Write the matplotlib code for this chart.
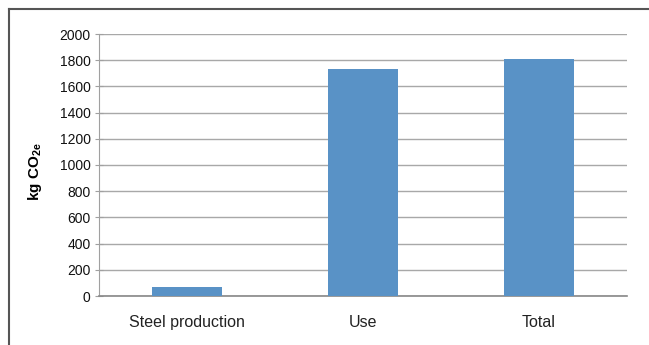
import matplotlib
matplotlib.use("Agg")
import matplotlib.pyplot as plt
from matplotlib.lines import Line2D

categories = ["Steel production", "Use", "Total"]
values = [71, 1736, 1808]
yticks = [0, 200, 400, 600, 800, 1000, 1200, 1400, 1600, 1800, 2000]

plt.rcParams['font.family'] = ['Liberation Sans', 'DejaVu Sans']
plt.rcParams['mathtext.fontset'] = 'custom'
plt.rcParams['mathtext.rm'] = 'Liberation Sans'
plt.rcParams['mathtext.bf'] = 'Liberation Sans:bold'

W, H = 649, 345
fig = plt.figure(figsize=(W/100, H/100), dpi=100)
ax = fig.add_axes([99/W, (H-296)/H, (627-99)/W, (296-34)/H])

x = list(range(len(categories)))
ax.bar(x, values, width=0.4, color='#5992C6', zorder=3)
ax.set_xlim(-0.5, 2.5)
ax.set_ylim(0, 2000)
ax.set_yticks(yticks)
ax.set_yticklabels([str(v) for v in yticks], fontsize=10, color='#111111')
ax.set_xticks(x)
ax.set_xticklabels(categories, fontsize=11.5, color='#222222')
ax.tick_params(axis='x', length=0, pad=14)
ax.tick_params(axis='y', direction='inout', length=6, width=0.8, color='#a0a0a0', pad=3)
ax.grid(axis='y', color='#a8a8a8', linewidth=1.0, zorder=0)
for s in ['top', 'right']:
    ax.spines[s].set_visible(False)
ax.spines['left'].set_color('#a0a0a0')
ax.spines['bottom'].set_color('#888888')
ax.spines['bottom'].set_linewidth(1.2)
ax.set_ylabel(r'$\mathbf{kg\ CO_{2e}}$', fontsize=11)
ax.yaxis.set_label_coords(-0.105, 0.475)

# outer frame (left and top edges visible)
fig.add_artist(Line2D([9/W, 9/W], [0, 1 - 9/H], transform=fig.transFigure, color='#555555', linewidth=1.5))
fig.add_artist(Line2D([9/W, 1], [1 - 9/H, 1 - 9/H], transform=fig.transFigure, color='#555555', linewidth=1.5))

fig.savefig("out.png", dpi=100)
